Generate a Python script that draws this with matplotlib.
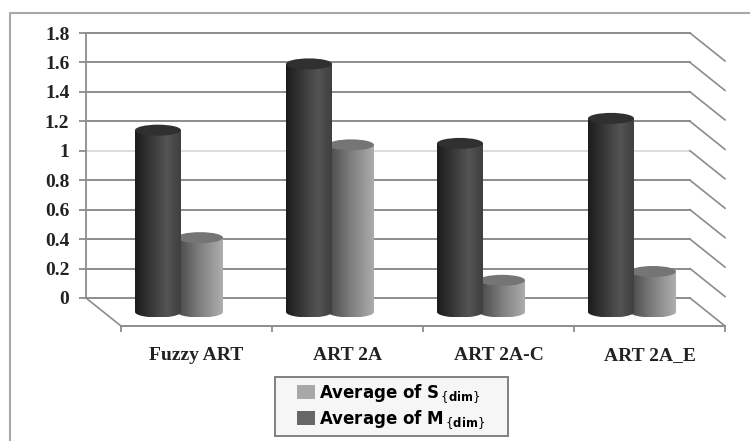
import numpy as np
import matplotlib
matplotlib.use('Agg')
import matplotlib.pyplot as plt
from matplotlib.patches import Ellipse, PathPatch, Patch, Rectangle
from matplotlib.path import Path

categories = ['Fuzzy ART', 'ART 2A', 'ART 2A-C', 'ART 2A_E']
avg_m = [1.14, 1.59, 1.05, 1.22]
avg_s = [0.41, 1.04, 0.12, 0.18]
y_ticks = [0, 0.2, 0.4, 0.6, 0.8, 1, 1.2, 1.4, 1.6, 1.8]
y_labels = ['0', '0.2', '0.4', '0.6', '0.8', '1', '1.2', '1.4', '1.6', '1.8']

W, H = 750, 441
GRID = '#8c8c8c'
SERIF = 'Liberation Serif'


def px_axes(fig, x0, y_top, x1, y_bot):
    return fig.add_axes([x0 / W, 1 - y_bot / H, (x1 - x0) / W, (y_bot - y_top) / H])


def cylinder(ax, x0, x1, val, base, ry, stops, top_col, z):
    # body is a gradient image clipped to rectangle + round bottom
    t = np.linspace(0, np.pi, 40)
    xc, rx = (x0 + x1) / 2, (x1 - x0) / 2
    xs = xc - rx * np.cos(t)
    ys = base - ry * np.sin(t)
    verts = [(x0, val)] + list(zip(xs, ys)) + [(x1, val), (x0, val)]
    codes = [Path.MOVETO] + [Path.LINETO] * (len(verts) - 2) + [Path.CLOSEPOLY]
    clip = PathPatch(Path(verts, codes), transform=ax.transData, fc='none', ec='none', clip_on=False)
    ax.add_patch(clip)
    pos = np.linspace(0, 1, 64)
    grad = np.interp(pos, [s[0] for s in stops], [s[1] for s in stops]).reshape(1, -1)
    im = ax.imshow(grad, extent=(x0, x1, base - ry, val), cmap='gray', vmin=0, vmax=1,
                   aspect='auto', zorder=z, interpolation='bilinear')
    # images get cut at the axes box otherwise, the bars hang below the wall
    im.set_clip_box(ax.figure.bbox)
    im.set_clip_path(clip)
    ax.add_patch(Ellipse((xc, val), x1 - x0, 2 * ry, fc=top_col, ec='none', zorder=z + 0.1,
                         clip_on=False))


fig = plt.figure(figsize=(W / 100, H / 100), dpi=100)

# outer frame
fig.add_artist(plt.Line2D([10 / W, 10 / W, 1], [0, 1 - 13 / H, 1 - 13 / H], color='#a8a8a8', lw=1.5))

# back wall axes, 4 category widths wide
ax = px_axes(fig, 86, 33, 690, 298)
ax.patch.set_visible(False)
dx = 35 / 151
dy = 28 / (265 / 1.8)
for sp in ['top', 'right', 'bottom']:
    ax.spines[sp].set_visible(False)
ax.spines['left'].set_color(GRID)
ax.spines['left'].set_linewidth(1.3)

for v in y_ticks:
    col = '#dcdcdc' if v == 1 else GRID
    ax.plot([0, 4], [v, v], color=col, lw=1.4, zorder=1, clip_on=False)
    ax.plot([4, 4 + dx], [v, v - dy], color=GRID, lw=1.2, zorder=1, clip_on=False)
ax.plot([0, dx], [0, -dy], color=GRID, lw=1.2, clip_on=False)

width = 46 / 151
base = -0.095
ry = 5.5 / (265 / 1.8)
m_stops = [(0, 0.11), (0.7, 0.33), (1, 0.25)]
s_stops = [(0, 0.28), (0.5, 0.5), (1, 0.68)]
for i in range(len(categories)):
    x_m = i + 14 / 151 + dx
    x_s = x_m + width - 4 / 151
    cylinder(ax, x_s, x_s + width, avg_s[i], base, ry, s_stops, '#757575', 3)
    cylinder(ax, x_m, x_m + width, avg_m[i], base, ry, m_stops, '#303030', 5)

ax.set_xlim(0, 4)
ax.set_ylim(0, 1.8)
ax.set_xticks([])
ax.set_yticks(y_ticks)
ax.set_yticklabels(y_labels, fontfamily=SERIF, fontweight='bold', fontsize=14, color='#222222')
ax.tick_params(axis='y', length=5, width=1.3, color=GRID, pad=7)

# front floor edge carries the category axis
ax2 = px_axes(fig, 121, 300, 725, 326)
ax2.patch.set_visible(False)
for sp in ['top', 'right', 'left']:
    ax2.spines[sp].set_visible(False)
ax2.spines['bottom'].set_color(GRID)
ax2.spines['bottom'].set_linewidth(1.4)
ax2.set_xlim(0, 4)
ax2.set_yticks([])
ax2.set_xticks(range(5))
ax2.set_xticklabels([])
ax2.set_xticks(np.arange(4) + 0.5, minor=True)
ax2.set_xticklabels(categories, minor=True, fontfamily=SERIF, fontweight='bold', fontsize=14,
                    color='#222222')
ax2.tick_params(axis='x', which='major', length=4.5, width=1.3, color=GRID)
ax2.tick_params(axis='x', which='minor', length=0, pad=15)

# legend box is wider than its text, so the frame is drawn apart
fig.add_artist(Rectangle((275 / W, 1 - 436 / H), 233 / W, 59 / H, transform=fig.transFigure,
                         fc='#f6f6f6', ec='#808080', lw=1.4))
handles = [Patch(fc='#a8a8a8', ec='none'), Patch(fc='#666666', ec='none')]
labels = [r'Average of S$_{\,\{\mathbf{dim}\}}$', r'Average of M$_{\,\{\mathbf{dim}\}}$']
leg = fig.legend(handles, labels, loc='upper left', bbox_to_anchor=(297 / W, 1 - 382 / H),
                 prop={'family': 'DejaVu Sans', 'weight': 'bold', 'size': 12},
                 frameon=False, handlelength=1.1, handleheight=0.95, handletextpad=0.2,
                 labelspacing=0.2, borderpad=0, borderaxespad=0)

fig.savefig('out.png', dpi=100)
